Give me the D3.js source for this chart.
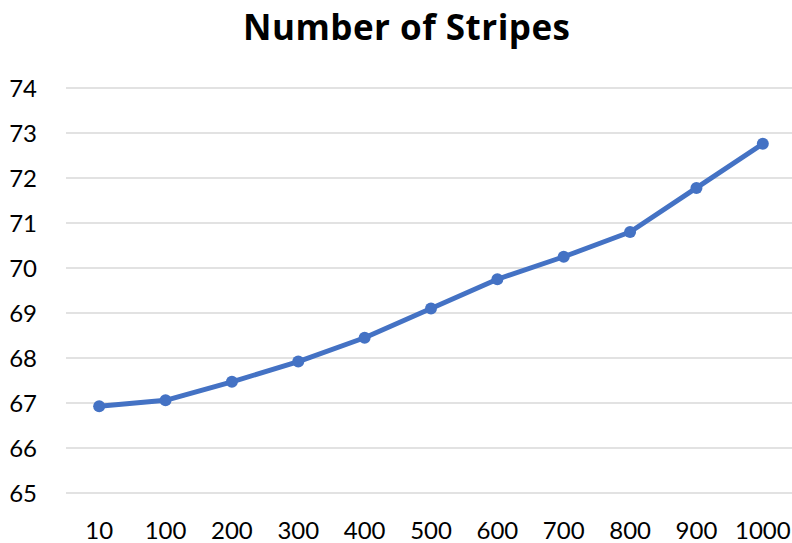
<!DOCTYPE html>
<html>
<head>
<meta charset="utf-8">
<script src="https://cdn.jsdelivr.net/npm/d3@7/dist/d3.min.js"></script>
<style>
  html, body { margin: 0; padding: 0; background: #fff; }
  svg { display: block; }
  text { font-family: Lato, "Liberation Sans", sans-serif; fill: #000; }
</style>
</head>
<body>
<svg id="chart" width="792" height="543"></svg>
<script>
// Stripe counts per sample size
const categories = ["10", "100", "200", "300", "400", "500", "600", "700", "800", "900", "1000"];
const stripes = [66.93, 67.06, 67.47, 67.92, 68.45, 69.1, 69.75, 70.25, 70.8, 71.78, 72.76];
const yTicks = [65, 66, 67, 68, 69, 70, 71, 72, 73, 74];
const title = "Number of Stripes";

const svg = d3.select("#chart");
const plot = { left: 66, right: 796, top: 88, bottom: 493 };

const x = d3.scaleBand()
  .domain(categories)
  .range([plot.left, plot.right]);

const y = d3.scaleLinear()
  .domain([65, 74])
  .range([plot.bottom, plot.top]);

// horizontal gridlines
svg.append("g")
  .selectAll("line")
  .data(yTicks)
  .join("line")
  .attr("x1", plot.left)
  .attr("x2", 792)
  .attr("y1", d => y(d))
  .attr("y2", d => y(d))
  .attr("stroke", "#d9d9d9")
  .attr("stroke-width", 1.3);

// y-axis labels
const yAxis = svg.append("g")
  .attr("transform", `translate(37,0)`)
  .call(d3.axisLeft(y).tickValues(yTicks).tickSize(0).tickPadding(0));
yAxis.select(".domain").remove();
yAxis.selectAll("text")
  .style("font-family", "Lato, 'Liberation Sans', sans-serif")
  .style("font-size", "24px")
  .attr("fill", "#333")
  .attr("dy", "0.35em");

// x-axis labels
const xAxis = svg.append("g")
  .attr("transform", `translate(0,${plot.bottom})`)
  .call(d3.axisBottom(x).tickSize(0).tickPadding(29));
xAxis.select(".domain").remove();
xAxis.selectAll("text")
  .style("font-family", "Lato, 'Liberation Sans', sans-serif")
  .style("font-size", "24px")
  .attr("fill", "#333");

// series line
const line = d3.line()
  .x((d, i) => x(categories[i]) + x.bandwidth() / 2)
  .y(d => y(d));

svg.append("path")
  .datum(stripes)
  .attr("d", line)
  .attr("fill", "none")
  .attr("stroke", "#4472C4")
  .attr("stroke-width", 5)
  .attr("stroke-linejoin", "round")
  .attr("stroke-linecap", "round");

// markers
svg.append("g")
  .selectAll("circle")
  .data(stripes)
  .join("circle")
  .attr("cx", (d, i) => x(categories[i]) + x.bandwidth() / 2)
  .attr("cy", d => y(d))
  .attr("r", 6)
  .attr("fill", "#4472C4");

// chart title
svg.append("text")
  .attr("x", 406.5)
  .attr("y", 40)
  .attr("text-anchor", "middle")
  .attr("textLength", 327)
  .attr("lengthAdjust", "spacing")
  .style("font-family", "'Open Sans', 'Noto Sans', sans-serif")
  .style("font-size", "35px")
  .style("font-weight", "bold")
  .text(title);
</script>
</body>
</html>
